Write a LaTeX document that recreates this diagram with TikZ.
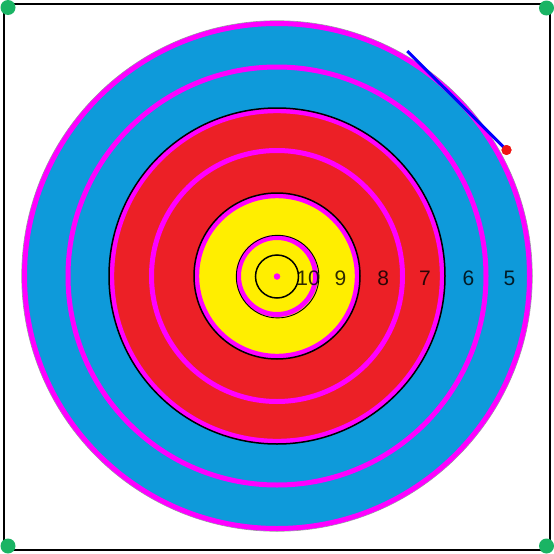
\documentclass[tikz,border=0pt]{standalone}
\usepackage{fontspec}
\setmainfont{Liberation Sans}
\definecolor{tblue}{RGB}{14,154,218}
\definecolor{tred}{RGB}{236,32,38}
\definecolor{tyellow}{RGB}{255,238,0}
\definecolor{tmag}{RGB}{255,0,255}
\definecolor{tgreen}{RGB}{26,180,100}
\definecolor{tline}{RGB}{0,0,255}
\definecolor{tdot}{RGB}{240,20,20}
\tikzset{
  magring/.style={draw=tmag, line width=5pt},
  blackring/.style={draw=black, line width=1.5pt},
  score/.style={font=\fontsize{21}{24}\selectfont, text=black, text opacity=0.82, inner sep=0pt},
  corner/.style={circle, fill=tgreen, minimum size=15pt, inner sep=0pt},
}
\begin{document}
\begin{tikzpicture}[x=1pt,y=-1pt]
\useasboundingbox (0,0) rectangle (554,554);
\fill[white] (0,0) rectangle (554,554);
\coordinate (c) at (277,276);
% filled zones
\fill[tblue] (c) circle[radius=255pt];
\draw[black!40, line width=0.6pt] (c) circle[radius=255.3pt];
\fill[tred] (c) circle[radius=168pt];
\fill[tyellow] (c) circle[radius=83pt];
% magenta rings
\draw[magring] (c) circle[radius=252.5pt];
\draw[magring] (c) circle[radius=209pt];
\draw[magring] (c) circle[radius=165.3pt];
\draw[magring] (c) circle[radius=125.5pt];
\draw[magring] (c) circle[radius=80.3pt];
\draw[magring] (c) circle[radius=38.5pt];
% black rings
\draw[blackring] (c) circle[radius=168pt];
\draw[blackring] (c) circle[radius=83pt];
\draw[black, line width=0.9pt] ([shift={(0.6,0.6)}]c) circle[radius=41.3pt];
\draw[blackring] ([shift={(0,0.5)}]c) circle[radius=21.5pt];
\node[circle, fill=tmag, minimum size=6.5pt, inner sep=0pt] (centre) at ([shift={(0,0.5)}]c) {};
% scores
\node[score] (s10) at (308,278.3) {10};
\node[score] (s9) at (340.5,278.3) {9};
\node[score] (s8) at (383.3,278.3) {8};
\node[score] (s7) at (425,278.3) {7};
\node[score] (s6) at (468.5,278.3) {6};
\node[score] (s5) at (509.5,278.3) {5};
% blue line and red dot
\coordinate (lstart) at (407.3,51);
\node[circle, fill=tdot, minimum size=10pt, inner sep=0pt] (rdot) at (506.5,150) {};
\draw[tline, line width=3pt] (lstart) -- (rdot.center);
\node[circle, fill=tdot, minimum size=10pt, inner sep=0pt] at (rdot) {};
% frame
\draw[black, line width=2pt] (3.7,4) rectangle (550,550);
\node[corner] (g1) at (8,7.5) {};
\node[corner] (g2) at (546.5,8) {};
\node[corner] (g3) at (8,546) {};
\node[corner] (g4) at (546.5,546) {};
\end{tikzpicture}
\end{document}
